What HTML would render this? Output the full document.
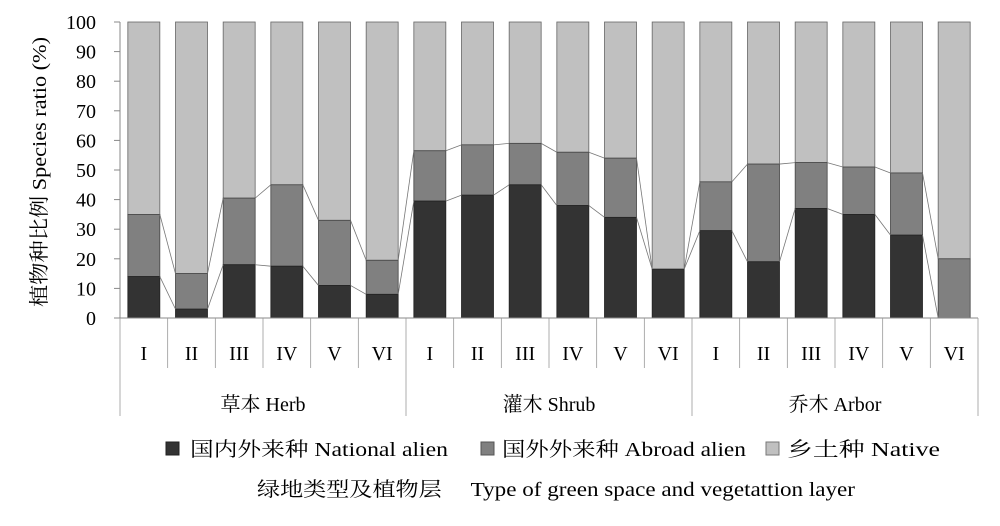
<!DOCTYPE html>
<html><head><meta charset="utf-8"><style>
html,body{margin:0;padding:0;background:#fff;}
svg{display:block;font-family:"Liberation Serif","Noto Serif CJK SC","Noto Sans CJK SC",serif;}
</style></head><body>
<svg id="chart" width="1000" height="526" viewBox="0 0 1000 526">
<g id="grid"></g><g id="bars"></g><g id="links"></g><g id="axes"></g>
<text transform="translate(46,172) rotate(-90)" text-anchor="middle" font-size="20" textLength="270" lengthAdjust="spacingAndGlyphs">植物种比例 Species ratio (%)</text>
<g>
<g><rect x="166" y="442" width="13" height="13" fill="#333" stroke="#222"/><text x="190" y="456" font-size="20" textLength="258" lengthAdjust="spacingAndGlyphs">国内外来种 National alien</text></g>
<g><rect x="481" y="442" width="13" height="13" fill="#808080" stroke="#555"/><text x="502" y="456" font-size="20" textLength="244" lengthAdjust="spacingAndGlyphs">国外外来种 Abroad alien</text></g>
<g><rect x="766" y="442" width="13" height="13" fill="#c0c0c0" stroke="#777"/><text x="787" y="456" font-size="20" textLength="153" lengthAdjust="spacingAndGlyphs">乡土种 Native</text></g>
</g>
<text x="257" y="496" font-size="20" textLength="598" lengthAdjust="spacingAndGlyphs" xml:space="preserve">绿地类型及植物层     Type of green space and vegetattion layer</text>
</svg>
<script>
const groups = ["草本 Herb","灌木 Shrub","乔木 Arbor"];
const subs = ["I","II","III","IV","V","VI"];
const nationalVals = [14,3,18,17.5,11,8, 39.5,41.5,45,38,34,16.5, 29.5,19,37,35,28,0];
const abroadVals = [21,12,22.5,27.5,22,11.5, 17,17,14,18,20,0, 16.5,33,15.5,16,21,20];
const yTicks = [0,10,20,30,40,50,60,70,80,90,100];

const NS="http://www.w3.org/2000/svg";
const X0=120, X1=978, Y0=318, Y100=22;
const n=nationalVals.length, slot=(X1-X0)/n, bw=32;
const y=v=>Y0-(v/100)*(Y0-Y100);
const xc=i=>X0+slot*(i+0.5);
function mk(tag,attrs,parent){const e=document.createElementNS(NS,tag);for(const k in attrs)e.setAttribute(k,attrs[k]);parent.appendChild(e);return e;}
const gb=document.getElementById('bars'), gl=document.getElementById('links'), ga=document.getElementById('axes');

for(let i=0;i<n;i++){
  const a=nationalVals[i], b=abroadVals[i], l=xc(i)-bw/2;
  let r=mk('rect',{x:l,y:y(100),width:bw,height:y(a+b)-y(100),fill:'#c0c0c0',stroke:'#666','stroke-width':0.8},gb);
  
  
  r=mk('rect',{x:l,y:y(a+b),width:bw,height:y(a)-y(a+b),fill:'#808080',stroke:'#444','stroke-width':0.8},gb);
  
  
  r=mk('rect',{x:l,y:y(a),width:bw,height:Y0-y(a),fill:'#333333',stroke:'#222','stroke-width':0.8},gb);
  
  
  if(i<n-1){
    const a2=nationalVals[i+1], b2=abroadVals[i+1], r2=xc(i+1)-bw/2;
    let ln=mk('line',{x1:l+bw,y1:y(a),x2:r2,y2:y(a2),stroke:'#777','stroke-width':0.8},gl);
    
    
    ln=mk('line',{x1:l+bw,y1:y(a+b),x2:r2,y2:y(a2+b2),stroke:'#777','stroke-width':0.8},gl);
    
    
  }
}
// y axis
let ax=mk('line',{x1:X0,y1:Y100,x2:X0,y2:Y0,stroke:'#888','stroke-width':1},ga);


yTicks.forEach(t=>{
  let tk=mk('line',{x1:X0-6,y1:y(t),x2:X0,y2:y(t),stroke:'#888'},ga);
  
  
  let tx=mk('text',{x:96,y:y(t)+7,'text-anchor':'end','font-size':20},ga);
  tx.textContent=t;
  
  
});
ax=mk('line',{x1:X0,y1:Y0,x2:X1,y2:Y0,stroke:'#888'},ga);


for(let i=0;i<=n;i++){
  const x=X0+slot*i, isG=(i%6===0);
  let s=mk('line',{x1:x,y1:Y0,x2:x,y2:isG?416:368,stroke:'#999','stroke-width':0.8},ga);
  
  
  if(i<n){
    let t=mk('text',{x:xc(i),y:360,'text-anchor':'middle','font-size':20},ga);
    t.textContent=subs[i%6];
    
    
  }
}
groups.forEach((g,k)=>{
  let t=mk('text',{x:X0+slot*(6*k+3),y:411,'text-anchor':'middle','font-size':20},ga);
  t.textContent=g;
  
  
});
</script>
</body></html>
